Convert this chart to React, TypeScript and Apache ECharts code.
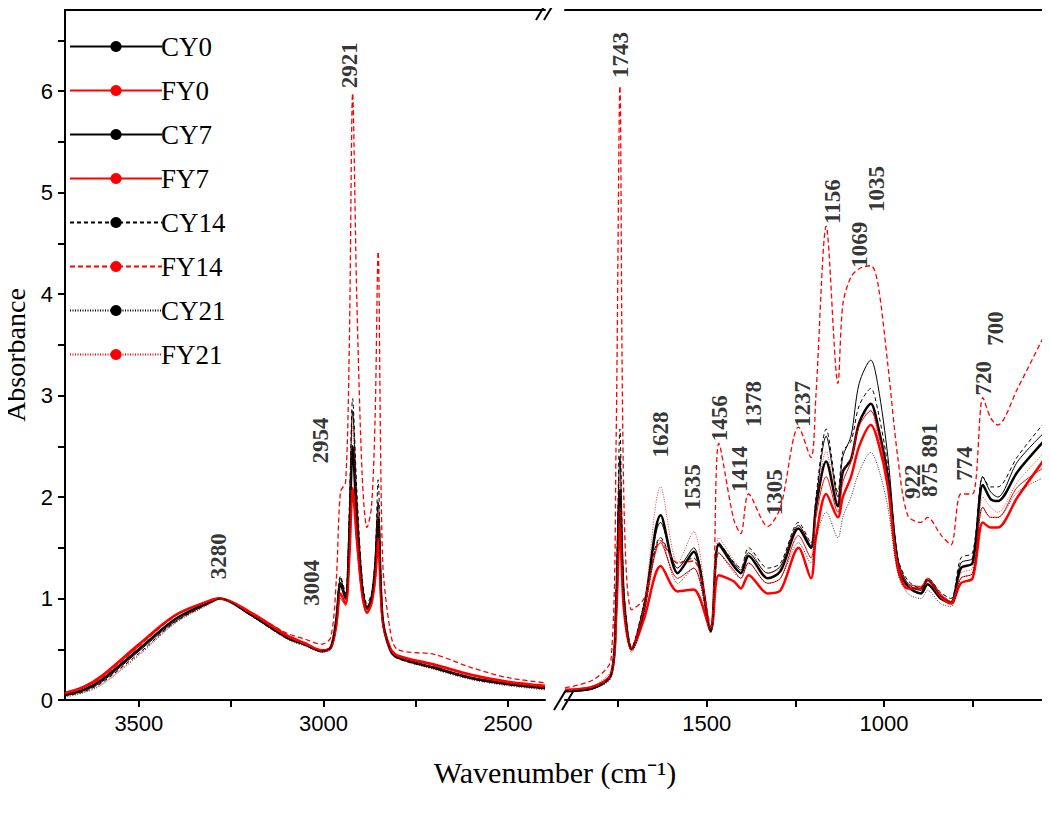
import * as echarts from "echarts";
import { useEffect, useRef } from "react";

// wavenumbers of the two axis segments (cm-1)
const leftX = [3700, 3650, 3600, 3500, 3400, 3300, 3280, 3200, 3100, 3050, 3004, 2980, 2965, 2954, 2940, 2930, 2921, 2910, 2895, 2882, 2870, 2860, 2852, 2840, 2820, 2800, 2700, 2600, 2500, 2400];
const rightX = [1900, 1820, 1770, 1756, 1745, 1734, 1712, 1677, 1630, 1582, 1537, 1489, 1466, 1424, 1404, 1382, 1328, 1292, 1241, 1206, 1192, 1163, 1130, 1116, 1093, 1070, 1037, 1017, 989, 961, 933, 896, 877, 840, 811, 783, 750, 721, 699, 679, 623, 544];

const names = ["CY0", "FY0", "CY7", "FY7", "CY14", "FY14", "CY21", "FY21"];

const leftY: Record<string, number[]> = {
  CY0: [0.05, 0.1, 0.2, 0.5, 0.8, 0.98, 1.0, 0.85, 0.62, 0.55, 0.48, 0.52, 0.8, 1.15, 1.0, 1.6, 2.5, 1.8, 1.1, 0.9, 1.0, 1.3, 1.8, 0.8, 0.5, 0.42, 0.32, 0.22, 0.16, 0.12],
  FY0: [0.07, 0.13, 0.24, 0.55, 0.84, 0.99, 1.0, 0.87, 0.64, 0.56, 0.49, 0.52, 0.75, 1.05, 0.95, 1.4, 2.08, 1.6, 1.05, 0.86, 0.95, 1.2, 1.55, 0.8, 0.52, 0.44, 0.35, 0.25, 0.18, 0.14],
  CY7: [0.05, 0.09, 0.18, 0.48, 0.78, 0.97, 1.0, 0.84, 0.61, 0.54, 0.48, 0.52, 0.82, 1.2, 1.02, 1.8, 2.85, 2.0, 1.15, 0.92, 1.0, 1.35, 1.95, 0.82, 0.5, 0.42, 0.31, 0.21, 0.15, 0.11],
  FY7: [0.06, 0.12, 0.22, 0.53, 0.83, 0.99, 1.0, 0.86, 0.63, 0.55, 0.48, 0.5, 0.7, 1.0, 0.93, 1.4, 2.1, 1.55, 1.0, 0.86, 0.95, 1.15, 1.6, 0.78, 0.5, 0.43, 0.34, 0.24, 0.17, 0.13],
  CY14: [0.04, 0.08, 0.17, 0.46, 0.77, 0.97, 1.0, 0.84, 0.61, 0.54, 0.48, 0.53, 0.85, 1.22, 1.05, 1.9, 2.97, 2.1, 1.2, 0.95, 1.05, 1.4, 2.17, 0.85, 0.5, 0.41, 0.31, 0.21, 0.15, 0.11],
  FY14: [0.06, 0.12, 0.22, 0.53, 0.83, 0.99, 1.0, 0.87, 0.66, 0.6, 0.55, 0.62, 1.2, 2.05, 2.15, 3.5, 5.98, 4.0, 2.2, 1.7, 1.9, 2.8, 4.42, 1.4, 0.7, 0.5, 0.45, 0.32, 0.22, 0.17],
  CY21: [0.03, 0.07, 0.15, 0.44, 0.76, 0.96, 1.0, 0.84, 0.6, 0.53, 0.47, 0.51, 0.78, 1.12, 1.0, 1.55, 2.4, 1.75, 1.1, 0.9, 0.98, 1.28, 1.75, 0.8, 0.49, 0.41, 0.3, 0.2, 0.14, 0.1],
  FY21: [0.04, 0.08, 0.16, 0.45, 0.77, 0.97, 1.0, 0.85, 0.62, 0.55, 0.48, 0.52, 0.8, 1.15, 1.0, 1.65, 2.7, 1.9, 1.12, 0.9, 1.0, 1.3, 1.85, 0.8, 0.5, 0.42, 0.32, 0.22, 0.16, 0.12],
};

const rightY: Record<string, number[]> = {
  CY0: [0.09, 0.12, 0.25, 0.9, 2.07, 1.0, 0.5, 0.9, 1.82, 1.25, 1.46, 0.68, 1.53, 1.32, 1.25, 1.42, 1.2, 1.27, 1.69, 1.5, 1.9, 2.35, 1.91, 2.25, 2.37, 2.73, 2.92, 2.7, 2.2, 1.34, 1.12, 1.05, 1.14, 1.0, 0.96, 1.3, 1.35, 2.12, 1.98, 1.96, 2.25, 2.57],
  FY0: [0.1, 0.13, 0.25, 0.8, 1.71, 0.9, 0.5, 0.8, 1.32, 1.07, 1.09, 0.7, 1.23, 1.17, 1.1, 1.23, 1.05, 1.08, 1.5, 1.2, 1.6, 2.03, 1.8, 2.0, 2.2, 2.5, 2.71, 2.55, 2.1, 1.3, 1.1, 1.1, 1.18, 1.02, 0.95, 1.15, 1.2, 1.75, 1.7, 1.7, 2.0, 2.39],
  CY7: [0.08, 0.11, 0.24, 1.0, 2.4, 1.05, 0.5, 0.95, 1.75, 1.3, 1.5, 0.7, 1.55, 1.35, 1.28, 1.45, 1.25, 1.32, 1.72, 1.52, 1.95, 2.6, 2.0, 2.4, 2.6, 3.12, 3.35, 3.1, 2.4, 1.4, 1.15, 1.08, 1.18, 1.03, 0.97, 1.35, 1.4, 2.2, 2.05, 2.0, 2.35, 2.65],
  FY7: [0.1, 0.14, 0.27, 0.85, 1.9, 0.95, 0.52, 0.9, 1.55, 1.2, 1.3, 0.72, 1.45, 1.28, 1.2, 1.35, 1.15, 1.2, 1.62, 1.4, 1.8, 2.2, 1.85, 2.15, 2.35, 2.7, 2.85, 2.65, 2.15, 1.35, 1.15, 1.12, 1.2, 1.05, 0.97, 1.2, 1.25, 1.9, 1.8, 1.8, 2.1, 2.3],
  CY14: [0.09, 0.12, 0.26, 1.05, 2.67, 1.1, 0.52, 0.95, 1.6, 1.35, 1.4, 0.7, 1.55, 1.36, 1.3, 1.5, 1.3, 1.35, 1.75, 1.55, 2.0, 2.67, 2.05, 2.45, 2.55, 2.9, 3.07, 2.85, 2.3, 1.4, 1.18, 1.1, 1.2, 1.06, 1.0, 1.4, 1.45, 2.2, 2.1, 2.1, 2.4, 2.75],
  FY14: [0.12, 0.2, 0.4, 2.5, 6.05, 2.0, 0.89, 1.0, 1.57, 1.35, 1.37, 0.72, 2.53, 1.78, 1.64, 2.03, 1.71, 1.9, 2.69, 2.39, 3.0, 4.67, 3.12, 3.9, 4.17, 4.25, 4.28, 4.1, 3.3, 2.39, 1.82, 1.75, 1.8, 1.63, 1.53, 2.03, 2.03, 2.98, 2.78, 2.71, 3.07, 3.62],
  CY21: [0.08, 0.11, 0.22, 0.8, 1.9, 0.9, 0.47, 0.85, 1.6, 1.15, 1.3, 0.66, 1.45, 1.26, 1.2, 1.35, 1.15, 1.2, 1.55, 1.35, 1.6, 1.85, 1.6, 1.8, 2.0, 2.25, 2.44, 2.3, 1.9, 1.25, 1.05, 1.0, 1.08, 0.95, 0.92, 1.2, 1.25, 1.9, 1.8, 1.8, 2.05, 2.2],
  FY21: [0.1, 0.14, 0.3, 0.9, 2.2, 1.0, 0.52, 0.95, 2.1, 1.35, 1.66, 0.72, 1.6, 1.38, 1.3, 1.48, 1.25, 1.3, 1.72, 1.55, 1.9, 2.45, 1.95, 2.25, 2.4, 2.75, 2.85, 2.6, 2.15, 1.35, 1.15, 1.12, 1.2, 1.04, 0.97, 1.25, 1.3, 2.0, 1.9, 1.85, 2.15, 2.45],
};

// peak labels: [label x, label bottom y, text]
const leftPeaks: [number, number, string][] = [
  [3285, 1.19, "3280"],
  [3033, 0.93, "3004"],
  [3008, 2.33, "2954"],
  [2930, 6.03, "2921"],
];
const rightPeaks: [number, number, string][] = [
  [1744, 6.13, "1743"],
  [1630, 2.39, "1628"],
  [1540, 1.87, "1535"],
  [1463, 2.55, "1456"],
  [1409, 2.05, "1414"],
  [1368, 2.69, "1378"],
  [1310, 1.82, "1305"],
  [1230, 2.69, "1237"],
  [1145, 4.69, "1156"],
  [1070, 4.26, "1069"],
  [1020, 4.81, "1035"],
  [919, 1.98, "922"],
  [872, 2.0, "875"],
  [872, 2.39, "891"],
  [774, 2.16, "774"],
  [719, 3.0, "720"],
  [685, 3.49, "700"],
];

const styles: Record<string, { color: string; width: number; type: any }> = {
  CY0: { color: "#000", width: 2.5, type: "solid" },
  FY0: { color: "#f00", width: 2.5, type: "solid" },
  CY7: { color: "#000", width: 1, type: "solid" },
  FY7: { color: "#f00", width: 1, type: "solid" },
  CY14: { color: "#000", width: 1, type: [4, 3] },
  FY14: { color: "#f00", width: 1.3, type: [5, 3] },
  CY21: { color: "#000", width: 0.8, type: [1, 1.5] },
  FY21: { color: "#f00", width: 0.8, type: [1, 1.5] },
};

const serif = "Liberation Serif";
const sans = "Liberation Sans";

export default function App() {
  const ref = useRef<HTMLDivElement>(null);

  useEffect(() => {
    if (!ref.current) return;
    const chart = echarts.init(ref.current, null, { renderer: "svg" });

    const yAxisBase = {
      type: "value",
      min: 0,
      max: 6.8,
      splitLine: { show: false },
      axisLine: { show: true, lineStyle: { color: "#000", width: 2 } },
    };
    const xBase = {
      type: "value",
      inverse: true,
      splitLine: { show: false },
      axisLine: { show: true, onZero: false, lineStyle: { color: "#000", width: 2 } },
      axisTick: { show: true, length: 7, lineStyle: { width: 2 } },
      axisLabel: { color: "#000", fontFamily: sans, fontSize: 22, margin: 12, formatter: (v: number) => String(v) },
    };

    const lineSeries: any[] = [];
    names.forEach((n) => {
      const s = styles[n];
      [0, 1].forEach((g) => {
        const xs = g === 0 ? leftX : rightX;
        const ys = g === 0 ? leftY[n] : rightY[n];
        lineSeries.push({
          name: n,
          type: "line",
          xAxisIndex: g,
          yAxisIndex: g,
          showSymbol: false,
          symbol: "none",
          smooth: 0.3,
          color: s.color,
          lineStyle: { color: s.color, width: s.width, type: s.type },
          data: xs.map((x, i) => [x, ys[i]]),
        });
      });
    });

    const peakSeries = (g: number, peaks: [number, number, string][]) => ({
      type: "scatter",
      xAxisIndex: g,
      yAxisIndex: g,
      symbolSize: 0,
      silent: true,
      data: peaks.map((p) => ({ value: [p[0], p[1]], name: p[2] })),
      label: {
        show: true,
        position: [0, 0],
        rotate: 90,
        align: "left",
        verticalAlign: "middle",
        formatter: "{b}",
        fontFamily: serif,
        fontWeight: "bold",
        fontSize: 23,
        color: "#000",
      },
    });

    chart.setOption({
      animation: false,
      backgroundColor: "#fff",
      grid: [
        { left: 62, top: 10, width: 483, height: 690 },
        { left: 565, top: 10, width: 482, height: 690 },
      ],
      legend: {
        orient: "vertical",
        left: 64,
        top: 28,
        itemWidth: 92,
        itemHeight: 14,
        itemGap: 17,
        data: names,
        textStyle: { fontFamily: serif, fontSize: 27, color: "#000", padding: [0, 0, 0, -6] },
      },
      xAxis: [
        {
          ...xBase,
          gridIndex: 0,
          min: 2400,
          max: 3700,
          axisLabel: { ...xBase.axisLabel, customValues: [2500, 3000, 3500] },
          axisTick: { ...xBase.axisTick, customValues: [2500, 2750, 3000, 3250, 3500] },
        },
        {
          ...xBase,
          gridIndex: 1,
          min: 540,
          max: 1900,
          axisLabel: { ...xBase.axisLabel, customValues: [1000, 1500] },
          axisTick: { ...xBase.axisTick, customValues: [750, 1000, 1250, 1500, 1750] },
        },
        { ...xBase, gridIndex: 0, position: "top", min: 2400, max: 3700, axisTick: { show: false }, axisLabel: { show: false } },
        { ...xBase, gridIndex: 1, position: "top", min: 540, max: 1900, axisTick: { show: false }, axisLabel: { show: false } },
      ],
      yAxis: [
        {
          ...yAxisBase,
          gridIndex: 0,
          name: "Absorbance",
          nameLocation: "middle",
          nameGap: 36,
          nameTextStyle: { fontFamily: serif, fontSize: 28, color: "#000" },
          axisTick: { show: true, length: 7, lineStyle: { width: 2 }, customValues: [0, 0.5, 1, 1.5, 2, 2.5, 3, 3.5, 4, 4.5, 5, 5.5, 6, 6.5] },
          axisLabel: { color: "#000", fontFamily: sans, fontSize: 22, margin: 12, customValues: [0, 1, 2, 3, 4, 5, 6] },
        },
        {
          ...yAxisBase,
          gridIndex: 1,
          position: "right",
          axisTick: { show: false },
          axisLabel: { show: false },
        },
      ],
      graphic: [
        { type: "line", shape: { x1: 536, y1: 20, x2: 548, y2: 0 }, style: { stroke: "#000", lineWidth: 2 } },
        { type: "line", shape: { x1: 544, y1: 20, x2: 556, y2: 0 }, style: { stroke: "#000", lineWidth: 2 } },
        { type: "line", shape: { x1: 554, y1: 710, x2: 566, y2: 690 }, style: { stroke: "#000", lineWidth: 2 } },
        { type: "line", shape: { x1: 562, y1: 710, x2: 574, y2: 690 }, style: { stroke: "#000", lineWidth: 2 } },
        {
          type: "text",
          x: 555,
          y: 772,
          style: {
            text: "Wavenumber (cm⁻¹)",
            fontFamily: serif,
            fontSize: 30,
            fill: "#000",
            align: "center",
            verticalAlign: "middle",
          },
        },
      ],
      series: [...lineSeries, peakSeries(0, leftPeaks), peakSeries(1, rightPeaks)],
    });

    return () => chart.dispose();
  }, []);

  return <div ref={ref} style={{ width: 1050, height: 815, margin: -8 }} />;
}
